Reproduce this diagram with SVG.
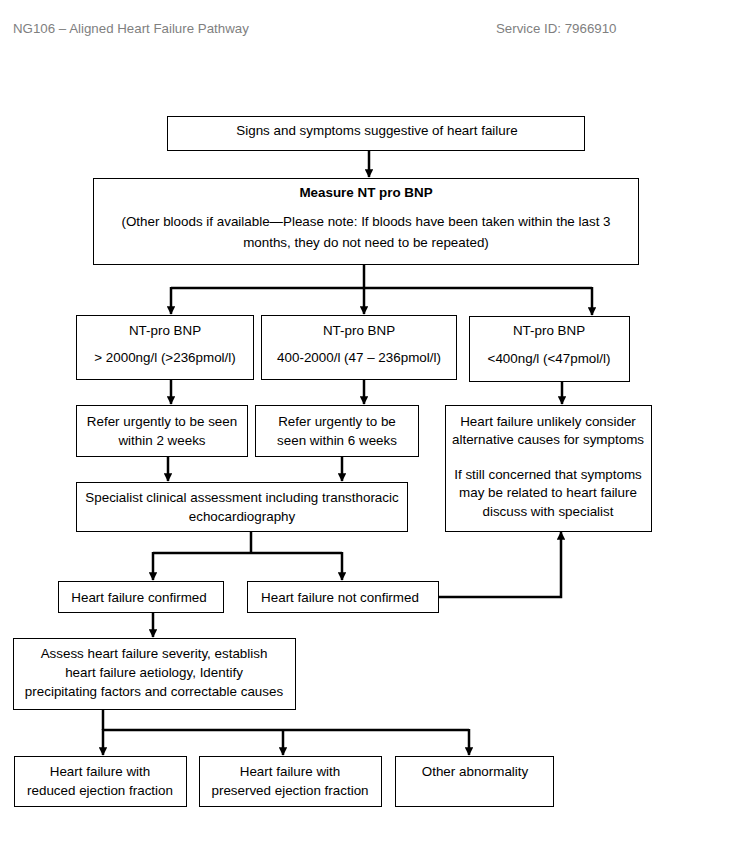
<svg xmlns="http://www.w3.org/2000/svg" width="738" height="856" viewBox="0 0 738 856">
<defs>
<marker id="ah" viewBox="0 0 10 10" refX="9" refY="5" markerWidth="3.4" markerHeight="3.4" orient="auto" markerUnits="strokeWidth">
<path d="M0,0 L10,5 L0,10 z" fill="#000"/>
</marker>
</defs>
<style>
.box{fill:#fff;stroke:#000;stroke-width:1}
.t{font-family:"Liberation Sans",Arial,sans-serif;font-size:13.4px;fill:#000;text-anchor:middle}
.b{font-weight:bold}
.h{font-family:"Liberation Sans",Arial,sans-serif;font-size:13.3px;fill:#7f7f7f}
.c{fill:none;stroke:#000;stroke-width:2.5}
.ca{fill:none;stroke:#000;stroke-width:2.5;marker-end:url(#ah)}
</style>
<rect width="738" height="856" fill="#fff"/>
<text class="h" x="13" y="33">NG106 – Aligned Heart Failure Pathway</text>
<text class="h" x="496" y="33">Service ID: 7966910</text>

<g id="connectors">
<line class="ca" x1="369" y1="150" x2="369" y2="177"/>
<line class="c" x1="364" y1="264" x2="364" y2="288"/>
<polyline class="c" points="171,288 592,288"/>
<line class="ca" x1="171" y1="287" x2="171" y2="314"/>
<line class="ca" x1="364" y1="287" x2="364" y2="314"/>
<line class="ca" x1="592" y1="287" x2="592" y2="315"/>
<line class="ca" x1="171" y1="379" x2="171" y2="404"/>
<line class="ca" x1="364" y1="379" x2="364" y2="404"/>
<line class="ca" x1="562" y1="381" x2="562" y2="404"/>
<line class="ca" x1="168" y1="456" x2="168" y2="481"/>
<line class="ca" x1="342" y1="456" x2="342" y2="481"/>
<line class="c" x1="251" y1="531" x2="251" y2="553"/>
<polyline class="c" points="153,553 342,553"/>
<line class="ca" x1="153" y1="552" x2="153" y2="580"/>
<line class="ca" x1="342" y1="552" x2="342" y2="580"/>
<polyline class="ca" points="438,597 561,597 561,532"/>
<line class="ca" x1="153" y1="612" x2="153" y2="637"/>
<line class="c" x1="103" y1="709" x2="103" y2="730"/>
<polyline class="c" points="103,730 469,730"/>
<line class="ca" x1="103" y1="729" x2="103" y2="755"/>
<line class="ca" x1="283" y1="729" x2="283" y2="755"/>
<line class="ca" x1="469" y1="729" x2="469" y2="755"/>
</g>

<g id="n-signs">
<rect class="box" x="167.5" y="116.5" width="417" height="34"/>
<text class="t" x="377" y="135">Signs and symptoms suggestive of heart failure</text>
</g>
<g id="n-measure">
<rect class="box" x="93.5" y="178.5" width="545" height="86"/>
<text class="t b" x="366" y="197">Measure NT pro BNP</text>
<text class="t" x="366" y="226">(Other bloods if available—Please note: If bloods have been taken within the last 3</text>
<text class="t" x="366" y="247">months, they do not need to be repeated)</text>
</g>
<g id="n-high">
<rect class="box" x="76.5" y="315.5" width="177" height="64"/>
<text class="t" x="165" y="335">NT-pro BNP</text>
<text class="t" x="165" y="362">&gt; 2000ng/l (&gt;236pmol/l)</text>
</g>
<g id="n-mid">
<rect class="box" x="261.5" y="315.5" width="195" height="64"/>
<text class="t" x="359" y="335">NT-pro BNP</text>
<text class="t" x="359" y="362">400-2000/l (47 – 236pmol/l)</text>
</g>
<g id="n-low">
<rect class="box" x="469.5" y="316.5" width="160" height="65"/>
<text class="t" x="549" y="335">NT-pro BNP</text>
<text class="t" x="549" y="363">&lt;400ng/l (&lt;47pmol/l)</text>
</g>
<g id="n-refer2">
<rect class="box" x="76.5" y="405.5" width="171" height="51"/>
<text class="t" x="162" y="426">Refer urgently to be seen</text>
<text class="t" x="162" y="445">within 2 weeks</text>
</g>
<g id="n-refer6">
<rect class="box" x="255.5" y="405.5" width="163" height="51"/>
<text class="t" x="337" y="426">Refer urgently to be</text>
<text class="t" x="337" y="445">seen within 6 weeks</text>
</g>
<g id="n-unlikely">
<rect class="box" x="445.5" y="405.5" width="206" height="126"/>
<text class="t" x="548" y="426">Heart failure unlikely consider</text>
<text class="t" x="548" y="444">alternative causes for symptoms</text>
<text class="t" x="548" y="479">If still concerned that symptoms</text>
<text class="t" x="548" y="497">may be related to heart failure</text>
<text class="t" x="548" y="516">discuss with specialist</text>
</g>
<g id="n-specialist">
<rect class="box" x="76.5" y="482.5" width="331" height="49"/>
<text class="t" x="242" y="502">Specialist clinical assessment including transthoracic</text>
<text class="t" x="242" y="521">echocardiography</text>
</g>
<g id="n-confirmed">
<rect class="box" x="58.5" y="581.5" width="165" height="31"/>
<text class="t" x="139" y="602">Heart failure confirmed</text>
</g>
<g id="n-notconfirmed">
<rect class="box" x="247.5" y="581.5" width="191" height="31"/>
<text class="t" x="340" y="602">Heart failure not confirmed</text>
</g>
<g id="n-assess">
<rect class="box" x="13.5" y="638.5" width="282" height="71"/>
<text class="t" x="154" y="658">Assess heart failure severity, establish</text>
<text class="t" x="154" y="677">heart failure aetiology, Identify</text>
<text class="t" x="154" y="696">precipitating factors and correctable causes</text>
</g>
<g id="n-hfref">
<rect class="box" x="14.5" y="756.5" width="172" height="50"/>
<text class="t" x="100" y="776">Heart failure with</text>
<text class="t" x="100" y="795">reduced ejection fraction</text>
</g>
<g id="n-hfpef">
<rect class="box" x="199.5" y="756.5" width="182" height="50"/>
<text class="t" x="290" y="776">Heart failure with</text>
<text class="t" x="290" y="795">preserved ejection fraction</text>
</g>
<g id="n-other">
<rect class="box" x="395.5" y="756.5" width="158" height="50"/>
<text class="t" x="475" y="776">Other abnormality</text>
</g>
</svg>
